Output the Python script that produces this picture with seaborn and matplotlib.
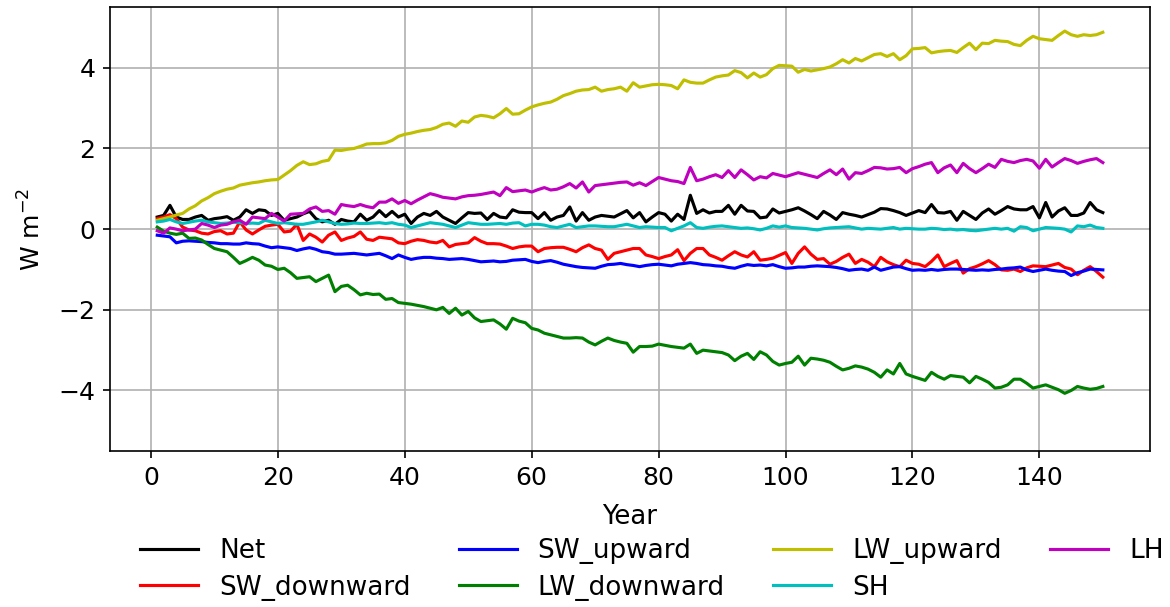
import numpy as np
import pandas as pd
import matplotlib
matplotlib.use("Agg")
import matplotlib.pyplot as plt
import seaborn as sns

years = list(range(1, 151))

net = [0.30, 0.34, 0.59, 0.30, 0.24, 0.24, 0.30, 0.34, 0.22, 0.26,
       0.28, 0.31, 0.22, 0.30, 0.48, 0.39, 0.48, 0.46, 0.34, 0.39,
       0.22, 0.26, 0.30, 0.38, 0.44, 0.26, 0.18, 0.22, 0.12, 0.24,
       0.20, 0.18, 0.37, 0.22, 0.30, 0.46, 0.31, 0.44, 0.30, 0.37,
       0.14, 0.30, 0.39, 0.34, 0.44, 0.30, 0.22, 0.14, 0.28, 0.41,
       0.39, 0.40, 0.24, 0.39, 0.30, 0.28, 0.48, 0.42, 0.41, 0.41,
       0.26, 0.41, 0.22, 0.30, 0.34, 0.55, 0.20, 0.41, 0.22, 0.30,
       0.34, 0.32, 0.30, 0.38, 0.46, 0.28, 0.41, 0.18, 0.30, 0.41,
       0.37, 0.20, 0.37, 0.24, 0.84, 0.39, 0.48, 0.40, 0.44, 0.44,
       0.59, 0.37, 0.59, 0.45, 0.44, 0.28, 0.30, 0.50, 0.40, 0.44,
       0.48, 0.53, 0.45, 0.36, 0.26, 0.44, 0.35, 0.24, 0.41, 0.37,
       0.34, 0.30, 0.36, 0.42, 0.51, 0.50, 0.46, 0.41, 0.34, 0.40,
       0.46, 0.41, 0.61, 0.41, 0.40, 0.44, 0.22, 0.44, 0.34, 0.24,
       0.40, 0.50, 0.37, 0.46, 0.56, 0.50, 0.48, 0.48, 0.56, 0.28,
       0.66, 0.30, 0.45, 0.53, 0.34, 0.34, 0.40, 0.66, 0.48, 0.41]

sw_downward = [0.26, 0.30, 0.36, 0.26, 0.05, -0.02, -0.04, -0.10, -0.12, -0.06,
               -0.04, -0.12, -0.10, 0.18, -0.02, -0.12, -0.02, 0.07, 0.10, 0.12,
               -0.07, -0.05, 0.12, -0.28, -0.12, -0.20, -0.32, -0.15, -0.07, -0.28,
               -0.22, -0.18, -0.07, -0.25, -0.28, -0.20, -0.22, -0.24, -0.34, -0.36,
               -0.30, -0.26, -0.28, -0.32, -0.34, -0.28, -0.44, -0.38, -0.36, -0.34,
               -0.21, -0.30, -0.36, -0.36, -0.37, -0.42, -0.48, -0.44, -0.42, -0.42,
               -0.56, -0.48, -0.46, -0.45, -0.45, -0.50, -0.56, -0.46, -0.39, -0.48,
               -0.52, -0.75, -0.60, -0.56, -0.52, -0.48, -0.48, -0.64, -0.68, -0.73,
               -0.68, -0.64, -0.51, -0.78, -0.60, -0.48, -0.48, -0.64, -0.70, -0.77,
               -0.66, -0.56, -0.64, -0.69, -0.56, -0.77, -0.75, -0.72, -0.65, -0.58,
               -0.85, -0.60, -0.44, -0.62, -0.75, -0.73, -0.87, -0.80, -0.70, -0.62,
               -0.85, -0.75, -0.82, -0.93, -0.70, -0.81, -0.88, -0.93, -0.77, -0.85,
               -0.87, -0.93, -0.80, -0.64, -0.93, -0.85, -0.78, -1.09, -0.98, -0.93,
               -0.86, -0.78, -0.88, -1.01, -1.02, -0.99, -1.05, -0.96, -0.91, -0.92,
               -0.93, -0.89, -0.85, -0.95, -0.99, -1.13, -1.02, -0.93, -1.05, -1.19]

sw_upward = [-0.15, -0.17, -0.19, -0.34, -0.30, -0.29, -0.30, -0.31, -0.33, -0.34,
             -0.36, -0.36, -0.37, -0.37, -0.34, -0.36, -0.37, -0.42, -0.46, -0.44,
             -0.46, -0.48, -0.53, -0.49, -0.46, -0.50, -0.56, -0.58, -0.62, -0.62,
             -0.61, -0.60, -0.62, -0.64, -0.62, -0.60, -0.66, -0.73, -0.64, -0.70,
             -0.75, -0.72, -0.70, -0.70, -0.72, -0.73, -0.75, -0.74, -0.73, -0.75,
             -0.78, -0.81, -0.80, -0.79, -0.81, -0.80, -0.77, -0.76, -0.75, -0.80,
             -0.83, -0.80, -0.78, -0.82, -0.87, -0.90, -0.93, -0.95, -0.96, -0.97,
             -0.92, -0.88, -0.87, -0.85, -0.88, -0.90, -0.93, -0.90, -0.88, -0.87,
             -0.89, -0.91, -0.87, -0.85, -0.83, -0.85, -0.88, -0.89, -0.91, -0.92,
             -0.95, -0.97, -0.92, -0.88, -0.90, -0.89, -0.91, -0.88, -0.93, -0.97,
             -0.96, -0.94, -0.94, -0.92, -0.91, -0.92, -0.93, -0.95, -0.98, -1.02,
             -1.00, -0.99, -1.02, -0.94, -1.02, -0.98, -0.94, -0.93, -0.98, -1.02,
             -1.01, -1.02, -1.00, -1.02, -1.00, -0.99, -0.99, -1.00, -1.01, -1.02,
             -1.01, -1.02, -1.00, -0.99, -0.97, -0.96, -0.94, -1.01, -1.05, -1.02,
             -0.99, -1.02, -1.04, -1.05, -1.15, -1.08, -1.04, -0.99, -1.00, -1.01]

lw_downward = [0.05, -0.05, -0.10, -0.13, -0.10, -0.23, -0.22, -0.27, -0.38, -0.48,
               -0.52, -0.56, -0.70, -0.85, -0.78, -0.70, -0.77, -0.89, -0.92, -1.00,
               -0.97, -1.08, -1.22, -1.20, -1.18, -1.30, -1.22, -1.14, -1.55, -1.42,
               -1.39, -1.50, -1.63, -1.59, -1.62, -1.61, -1.74, -1.72, -1.82, -1.84,
               -1.86, -1.89, -1.92, -1.96, -2.00, -1.94, -2.09, -1.96, -2.13, -2.04,
               -2.20, -2.29, -2.27, -2.25, -2.35, -2.48, -2.21, -2.28, -2.32, -2.46,
               -2.50, -2.58, -2.62, -2.66, -2.70, -2.70, -2.69, -2.70, -2.80, -2.87,
               -2.78, -2.70, -2.76, -2.80, -2.83, -3.05, -2.91, -2.91, -2.90, -2.85,
               -2.88, -2.91, -2.93, -2.95, -2.85, -3.08, -3.00, -3.02, -3.04, -3.06,
               -3.12, -3.26, -3.15, -3.08, -3.23, -3.04, -3.12, -3.28, -3.37, -3.33,
               -3.30, -3.15, -3.37, -3.20, -3.22, -3.25, -3.30, -3.40, -3.49, -3.45,
               -3.39, -3.42, -3.47, -3.55, -3.67, -3.49, -3.59, -3.33, -3.59, -3.65,
               -3.70, -3.75, -3.55, -3.65, -3.72, -3.63, -3.65, -3.67, -3.81, -3.65,
               -3.72, -3.80, -3.94, -3.92, -3.86, -3.72, -3.72, -3.82, -3.94, -3.90,
               -3.86, -3.92, -3.98, -4.07, -4.00, -3.90, -3.94, -3.97, -3.95, -3.90]

lw_upward = [0.22, 0.26, 0.30, 0.35, 0.39, 0.50, 0.58, 0.70, 0.78, 0.88,
             0.94, 0.99, 1.02, 1.09, 1.12, 1.15, 1.17, 1.20, 1.22, 1.23,
             1.34, 1.45, 1.58, 1.67, 1.60, 1.62, 1.68, 1.71, 1.96, 1.95,
             1.98, 2.00, 2.05, 2.11, 2.12, 2.12, 2.14, 2.20, 2.30, 2.35,
             2.38, 2.42, 2.45, 2.47, 2.52, 2.60, 2.63, 2.55, 2.68, 2.65,
             2.78, 2.82, 2.80, 2.76, 2.86, 2.99, 2.85, 2.86, 2.95, 3.03,
             3.08, 3.12, 3.15, 3.22, 3.31, 3.36, 3.42, 3.45, 3.46, 3.52,
             3.42, 3.46, 3.48, 3.52, 3.42, 3.63, 3.52, 3.55, 3.58, 3.59,
             3.58, 3.56, 3.48, 3.70, 3.64, 3.62, 3.62, 3.70, 3.77, 3.80,
             3.82, 3.93, 3.88, 3.75, 3.87, 3.77, 3.83, 3.98, 4.06, 4.05,
             4.04, 3.89, 3.96, 3.92, 3.95, 3.98, 4.02, 4.10, 4.20, 4.12,
             4.23, 4.17, 4.25, 4.33, 4.35, 4.28, 4.35, 4.20, 4.30, 4.47,
             4.48, 4.50, 4.37, 4.40, 4.42, 4.43, 4.38, 4.50, 4.61, 4.45,
             4.61, 4.60, 4.68, 4.66, 4.65, 4.58, 4.55, 4.68, 4.78, 4.72,
             4.70, 4.68, 4.80, 4.91, 4.82, 4.78, 4.82, 4.80, 4.82, 4.88]

sh = [0.18, 0.20, 0.24, 0.18, 0.14, 0.17, 0.20, 0.22, 0.18, 0.16,
      0.14, 0.15, 0.17, 0.16, 0.14, 0.15, 0.14, 0.22, 0.18, 0.14,
      0.16, 0.14, 0.12, 0.12, 0.15, 0.18, 0.22, 0.18, 0.14, 0.12,
      0.13, 0.15, 0.14, 0.14, 0.15, 0.16, 0.14, 0.16, 0.12, 0.10,
      0.04, 0.08, 0.12, 0.16, 0.14, 0.12, 0.08, 0.04, 0.10, 0.16,
      0.14, 0.12, 0.12, 0.13, 0.14, 0.12, 0.15, 0.16, 0.08, 0.12,
      0.12, 0.10, 0.06, 0.04, 0.08, 0.12, 0.04, 0.06, 0.08, 0.08,
      0.07, 0.06, 0.06, 0.09, 0.12, 0.08, 0.04, 0.06, 0.05, 0.04,
      0.04, -0.04, 0.02, 0.08, 0.16, 0.04, 0.02, 0.05, 0.07, 0.08,
      0.06, 0.04, 0.02, 0.03, 0.01, -0.02, 0.02, 0.08, 0.05, 0.08,
      0.04, 0.03, 0.02, 0.00, -0.02, 0.01, 0.03, 0.04, 0.05, 0.06,
      0.03, 0.00, 0.02, 0.01, 0.00, 0.02, 0.04, 0.00, 0.02, 0.01,
      0.00, 0.00, 0.02, 0.01, -0.01, 0.00, -0.02, -0.01, -0.03, -0.04,
      -0.02, 0.00, 0.02, 0.00, 0.02, -0.05, 0.06, 0.04, -0.04, 0.00,
      0.04, 0.03, 0.02, 0.00, -0.07, 0.08, 0.06, 0.10, 0.04, 0.02]

lh = [-0.04, -0.10, 0.03, 0.00, -0.04, -0.02, 0.00, 0.14, 0.10, 0.04,
      0.10, 0.12, 0.18, 0.22, 0.12, 0.30, 0.28, 0.26, 0.39, 0.30,
      0.20, 0.37, 0.38, 0.39, 0.50, 0.55, 0.44, 0.46, 0.37, 0.61,
      0.58, 0.56, 0.61, 0.56, 0.53, 0.67, 0.67, 0.75, 0.64, 0.71,
      0.63, 0.72, 0.80, 0.88, 0.84, 0.79, 0.77, 0.75, 0.80, 0.83,
      0.84, 0.86, 0.89, 0.92, 0.83, 1.03, 0.93, 0.95, 0.97, 0.92,
      0.98, 1.03, 0.97, 0.99, 1.05, 1.13, 1.02, 1.17, 0.92, 1.08,
      1.10, 1.12, 1.14, 1.16, 1.17, 1.09, 1.15, 1.08, 1.18, 1.28,
      1.24, 1.20, 1.18, 1.13, 1.53, 1.20, 1.24, 1.30, 1.35, 1.28,
      1.45, 1.28, 1.47, 1.35, 1.22, 1.30, 1.27, 1.38, 1.34, 1.30,
      1.35, 1.40, 1.36, 1.32, 1.28, 1.38, 1.47, 1.35, 1.49, 1.24,
      1.40, 1.38, 1.45, 1.53, 1.52, 1.49, 1.50, 1.53, 1.40, 1.50,
      1.55, 1.61, 1.65, 1.40, 1.52, 1.59, 1.40, 1.63, 1.50, 1.40,
      1.50, 1.61, 1.53, 1.73, 1.68, 1.65, 1.70, 1.73, 1.69, 1.51,
      1.73, 1.54, 1.65, 1.75, 1.70, 1.63, 1.68, 1.72, 1.75, 1.65]

series_names = ["Net", "SW_downward", "SW_upward", "LW_downward", "LW_upward", "SH", "LH"]
series_values = [net, sw_downward, sw_upward, lw_downward, lw_upward, sh, lh]
series_colors = ["k", "r", "b", "g", "y", "c", "m"]

frames = []
for name, vals in zip(series_names, series_values):
    frames.append(pd.DataFrame({"Year": years, "value": vals, "series": name}))
df = pd.concat(frames, ignore_index=True)

plt.rcParams["font.size"] = 12
fig = plt.figure(figsize=(7.8, 4.0467), dpi=150)
ax = fig.add_axes([0.094, 0.257, 0.889, 0.731])

sns.lineplot(data=df, x="Year", y="value", hue="series", hue_order=series_names,
             palette=dict(zip(series_names, series_colors)), linewidth=1.5, ax=ax)

ax.grid(True)
ax.set_ylim(-5.5, 5.5)
ax.set_xlabel("Year", labelpad=7, fontsize=12.5)
ax.set_ylabel("W m$^{-2}$", labelpad=6)
ax.legend(loc="upper center", bbox_to_anchor=(0.521, -0.143), ncol=4, frameon=False,
          handlelength=2.2, labelspacing=0.4, fontsize=12.6, columnspacing=1.85)

fig.savefig("out.png", dpi=150)
